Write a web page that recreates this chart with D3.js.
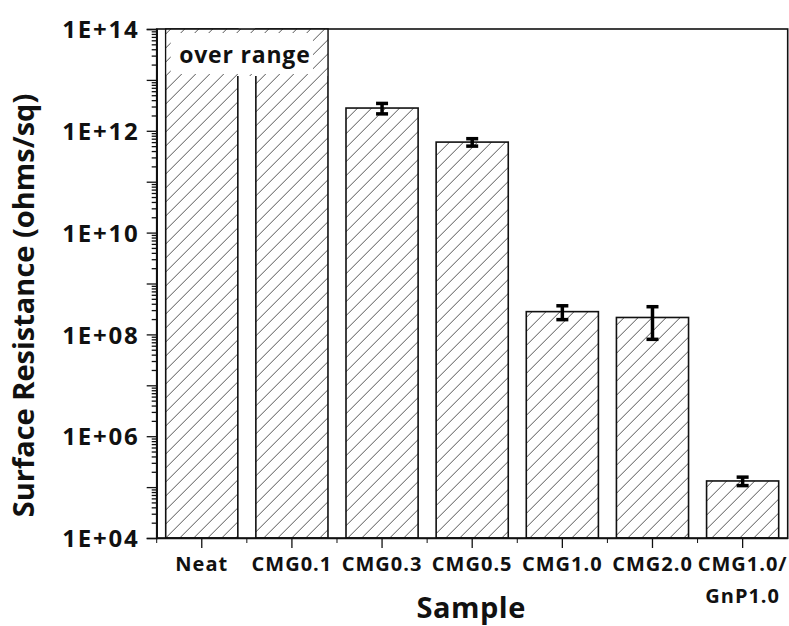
<!DOCTYPE html>
<html>
<head>
<meta charset="utf-8">
<script src="https://cdn.jsdelivr.net/npm/d3@7"></script>
<style>
    body { margin: 0; background: #fff; }
    #chart-area text { font-family: "Open Sans", "Noto Sans", sans-serif; font-weight: bold; fill: #111; }
</style>
</head>
<body>
<div id="chart-area"></div>
<script>

// samples on the x axis
var samples = ["Neat", "CMG0.1", "CMG0.3", "CMG0.5", "CMG1.0", "CMG2.0", "CMG1.0/GnP1.0"];

// mean surface resistance (ohms/sq), null = over range
var resistance = [null, null, 2.8e12, 6.0e11, 2.8e8, 2.15e8, 1.32e5];

// standard deviation of each sample
var resistanceErr = [null, null, 0.65e12, 1.0e11, 0.85e8, 1.35e8, 0.25e5];

// y axis decades
var yDecades = [1e4, 1e5, 1e6, 1e7, 1e8, 1e9, 1e10, 1e11, 1e12, 1e13, 1e14];
var yLabelled = [1e4, 1e6, 1e8, 1e10, 1e12, 1e14];

var overRangeText = "over range";


BarVis = function(_parentElement){
    this.parentElement = _parentElement;
    this.data = samples.map(function(s, i) {
        return { sample: s, value: resistance[i], err: resistanceErr[i] };
    });
    this.initVis();
}

BarVis.prototype.initVis = function(){
    var vis = this;

    vis.margin = { top: 29, right: 1.3, bottom: 88, left: 156.7 };
    vis.width = 789 - vis.margin.left - vis.margin.right;
    vis.height = 626 - vis.margin.top - vis.margin.bottom;

    vis.svg = d3.select("#" + vis.parentElement).append("svg")
        .attr("width", 789)
        .attr("height", 626)
        .append("g")
        .attr("transform", "translate(" + vis.margin.left + "," + vis.margin.top + ")");

    // hatch pattern
    var pat = vis.svg.append("defs").append("pattern")
        .attr("id", "hatch")
        .attr("patternUnits", "userSpaceOnUse")
        .attr("width", 14)
        .attr("height", 14);
    pat.append("rect").attr("width", 14).attr("height", 14).attr("fill", "#fff");
    pat.append("path")
        .attr("d", "M-1,15 L15,-1 M-8,8 L8,-8 M6,22 L22,6")
        .attr("stroke", "#555")
        .attr("stroke-width", 1);

    vis.x = d3.scaleBand()
        .domain(samples)
        .range([0, vis.width])
        .paddingInner(0.2)
        .paddingOuter(0.1);

    vis.y = d3.scaleLog()
        .domain([1e4, 1e14])
        .range([vis.height, 0]);

    vis.updateVis();
};

BarVis.prototype.updateVis = function(){
    var vis = this;
    var top = vis.y.domain()[1];

    // bars
    vis.svg.selectAll(".bar")
        .data(vis.data)
        .enter()
        .append("rect")
        .attr("class", "bar")
        .attr("x", function(d) { return vis.x(d.sample); })
        .attr("width", vis.x.bandwidth())
        .attr("y", function(d) { return vis.y(d.value === null ? top : d.value); })
        .attr("height", function(d) { return vis.height - vis.y(d.value === null ? top : d.value); })
        .attr("fill", "url(#hatch)")
        .attr("stroke", "#111")
        .attr("stroke-width", 1.6);

    // over range box spanning the first two bars
    var over = vis.data.filter(function(d) { return d.value === null; });
    var x0 = vis.x(over[0].sample);
    var x1 = vis.x(over[over.length - 1].sample) + vis.x.bandwidth();
    var boxH = 47;
    vis.svg.append("rect")
        .attr("x", x0 + 0.8)
        .attr("y", 0)
        .attr("width", x1 - x0 - 1.6)
        .attr("height", boxH)
        .attr("fill", "url(#hatch)");
    vis.svg.append("rect")
        .attr("x", x0 + 5)
        .attr("y", 4)
        .attr("width", x1 - x0 - 20)
        .attr("height", boxH - 6)
        .attr("fill", "#fff");
    vis.svg.append("text")
        .attr("x", (x0 + x1) / 2 - 2)
        .attr("y", 34)
        .attr("text-anchor", "middle")
        .style("font-size", "23px")
        .style("letter-spacing", "0.8px")
        .text(overRangeText);

    // error bars
    var eb = vis.svg.selectAll(".err")
        .data(vis.data.filter(function(d) { return d.value !== null; }))
        .enter()
        .append("g")
        .attr("class", "err")
        .attr("stroke", "#000")
        .attr("stroke-width", 3.5);
    var cx = function(d) { return vis.x(d.sample) + vis.x.bandwidth() / 2; };
    eb.append("line")
        .attr("x1", cx).attr("x2", cx)
        .attr("y1", function(d) { return vis.y(d.value + d.err); })
        .attr("y2", function(d) { return vis.y(d.value - d.err); });
    eb.append("line")
        .attr("x1", function(d) { return cx(d) - 6; }).attr("x2", function(d) { return cx(d) + 6; })
        .attr("y1", function(d) { return vis.y(d.value + d.err); })
        .attr("y2", function(d) { return vis.y(d.value + d.err); });
    eb.append("line")
        .attr("x1", function(d) { return cx(d) - 6; }).attr("x2", function(d) { return cx(d) + 6; })
        .attr("y1", function(d) { return vis.y(d.value - d.err); })
        .attr("y2", function(d) { return vis.y(d.value - d.err); });

    // frame
    vis.svg.append("rect")
        .attr("width", vis.width)
        .attr("height", vis.height)
        .attr("fill", "none")
        .attr("stroke", "#111")
        .attr("stroke-width", 1.6);

    // y axis, major ticks
    var yAxis = d3.axisLeft(vis.y)
        .tickValues(yDecades)
        .tickSize(10)
        .tickPadding(9)
        .tickFormat(function(d) {
            if (yLabelled.indexOf(d) < 0) return "";
            var e = Math.round(Math.log10(d));
            return "1E+" + (e < 10 ? "0" + e : e);
        });
    var gy = vis.svg.append("g").attr("class", "y-axis").call(yAxis);
    gy.selectAll("text")
        .style("font-size", "24px")
        .style("letter-spacing", "1.8px")
        .attr("dx", "1.8px")
        .attr("dy", "0.36em");

    // y axis, minor ticks
    var minor = [];
    yDecades.slice(0, -1).forEach(function(d) {
        for (var k = 2; k < 10; k++) minor.push(d * k);
    });
    var gyMinor = vis.svg.append("g")
        .call(d3.axisLeft(vis.y).tickValues(minor).tickSize(5).tickFormat(""));
    gyMinor.select(".domain").remove();

    // x axis
    var gx = vis.svg.append("g")
        .attr("transform", "translate(0," + vis.height + ")")
        .call(d3.axisBottom(vis.x).tickSize(10).tickPadding(10).tickSizeOuter(0));
    gx.selectAll(".tick text").remove();
    gx.selectAll(".tick").each(function(d) {
        var parts = d.indexOf("/") > 0 ? [d.slice(0, d.indexOf("/") + 1), d.slice(d.indexOf("/") + 1)] : [d];
        var t = d3.select(this).append("text")
            .attr("fill", "#111")
            .attr("text-anchor", "middle")
            .style("font-size", "20px")
            .style("letter-spacing", "1px");
        parts.forEach(function(p, i) {
            t.append("tspan").attr("x", 0).attr("y", 33 + i * 32).text(p);
        });
    });

    // x axis minor ticks between samples
    var step = vis.x.step();
    vis.svg.append("g")
        .attr("transform", "translate(0," + vis.height + ")")
        .selectAll("line")
        .data(samples)
        .enter()
        .append("line")
        .attr("x1", function(d) { return vis.x(d) + vis.x.bandwidth() / 2 - step / 2; })
        .attr("x2", function(d) { return vis.x(d) + vis.x.bandwidth() / 2 - step / 2; })
        .attr("y1", 0)
        .attr("y2", 5)
        .attr("stroke", "#111");

    vis.svg.selectAll(".domain").attr("stroke", "#111").attr("stroke-width", 1.6);
    vis.svg.selectAll(".tick line").attr("stroke", "#111").attr("stroke-width", 1.3);

    // axis titles
    vis.svg.append("text")
        .attr("transform", "translate(" + (-123) + "," + (vis.height / 2 + 22) + ") rotate(-90)")
        .attr("text-anchor", "middle")
        .style("font-size", "29px")
        .text("Surface Resistance (ohms/sq)");

    vis.svg.append("text")
        .attr("x", vis.width / 2 - 1)
        .attr("y", vis.height + 80)
        .attr("text-anchor", "middle")
        .style("font-size", "29px")
        .style("letter-spacing", "0.5px")
        .text("Sample");
};

new BarVis("chart-area");
</script>
</body>
</html>
